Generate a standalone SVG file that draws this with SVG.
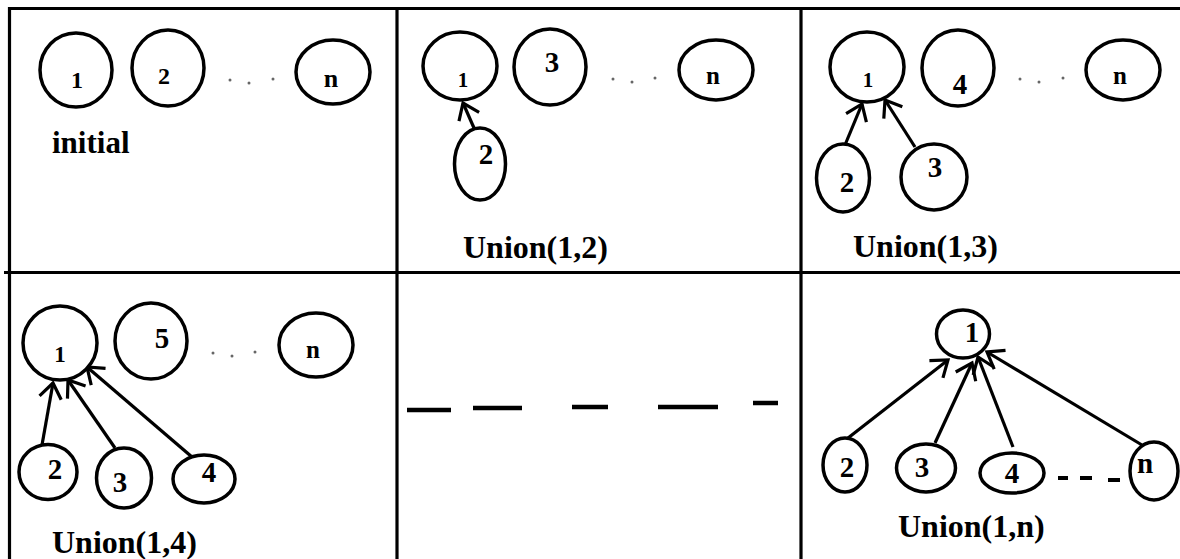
<svg xmlns="http://www.w3.org/2000/svg" width="1180" height="559" viewBox="0 0 1180 559">
<defs>
<style>
.n{fill:#fff;stroke:#000;stroke-width:3.5}
.t{font-family:"Liberation Serif","Times New Roman",serif;font-weight:bold;fill:#000;text-anchor:middle}
.cap{font-family:"Liberation Serif","Times New Roman",serif;font-weight:bold;fill:#000;font-size:32px}
.e{stroke:#000;stroke-width:3.2;fill:none;marker-end:url(#ah)}
.g{stroke:#000;stroke-width:3.2}
.d{fill:#666}
.dash{stroke:#000;stroke-width:4.5}
</style>
<marker id="ah" markerUnits="userSpaceOnUse" viewBox="-20 -15 30 30" markerWidth="30" markerHeight="30" refX="0" refY="0" orient="auto">
<path d="M-15,-11 L0,0 L-15,11" fill="none" stroke="#000" stroke-width="3.2"/>
</marker>
</defs>
<rect width="1180" height="559" fill="#fff"/>
<g id="grid">
<line class="g" x1="9" y1="8.5" x2="1180" y2="8.5"/>
<line class="g" x1="9.5" y1="7" x2="9.5" y2="559"/>
<line class="g" x1="4" y1="272.5" x2="1180" y2="272.5"/>
<line class="g" x1="397" y1="7" x2="397" y2="559"/>
<line class="g" x1="801" y1="7" x2="801" y2="559"/>
</g>
<g id="connectors">
<line class="e" x1="474" y1="128" x2="463" y2="103"/>
<line class="e" x1="845" y1="145" x2="862" y2="104"/>
<line class="e" x1="915" y1="147" x2="885" y2="100"/>
<line class="e" x1="42" y1="445" x2="53" y2="383"/>
<line class="e" x1="115" y1="448" x2="68" y2="380"/>
<line class="e" x1="192" y1="457" x2="87" y2="367"/>
<line class="e" x1="848" y1="438" x2="948" y2="360"/>
<line class="e" x1="935" y1="443" x2="972" y2="363"/>
<line class="e" x1="1013" y1="447" x2="978" y2="357"/>
<line class="e" x1="1142" y1="445" x2="987" y2="352"/>
</g>
<g id="panel1">
<g id="p1n1"><ellipse class="n" cx="76" cy="70" rx="36" ry="37"/><text class="t" x="77" y="88" font-size="24">1</text></g>
<g id="p1n2"><ellipse class="n" cx="168" cy="68" rx="36" ry="38"/><text class="t" x="164" y="84" font-size="24">2</text></g>
<g id="p1nn"><ellipse class="n" cx="333" cy="72" rx="37" ry="32"/><text class="t" x="331" y="87" font-size="26">n</text></g>
<circle class="d" cx="230" cy="80" r="1.5"/><circle class="d" cx="249" cy="83" r="1.5"/><circle class="d" cx="273" cy="79" r="1.5"/>
<text class="cap" x="52" y="153" style="font-size:31px">initial</text>
</g>
<g id="panel2">
<g id="p2n1"><ellipse class="n" cx="460" cy="66" rx="37" ry="34"/><text class="t" x="463" y="87" font-size="21">1</text></g>
<g id="p2n3"><ellipse class="n" cx="550" cy="67" rx="36" ry="38"/><text class="t" x="552" y="72" font-size="29">3</text></g>
<g id="p2nn"><ellipse class="n" cx="716" cy="70" rx="37" ry="30"/><text class="t" x="713" y="84" font-size="25">n</text></g>
<g id="p2n2"><ellipse class="n" cx="480" cy="164" rx="25.5" ry="36"/><text class="t" x="486" y="164" font-size="29">2</text></g>
<circle class="d" cx="613" cy="79" r="1.5"/><circle class="d" cx="632" cy="82" r="1.5"/><circle class="d" cx="655" cy="78" r="1.5"/>
<text class="cap" x="463" y="258">Union(1,2)</text>
</g>
<g id="panel3">
<g id="p3n1"><ellipse class="n" cx="867" cy="67" rx="37" ry="35"/><text class="t" x="868" y="87" font-size="21">1</text></g>
<g id="p3n4"><ellipse class="n" cx="958" cy="68" rx="36" ry="38"/><text class="t" x="960" y="94" font-size="29">4</text></g>
<g id="p3nn"><ellipse class="n" cx="1123" cy="70" rx="37" ry="30"/><text class="t" x="1120" y="84" font-size="25">n</text></g>
<g id="p3n2"><ellipse class="n" cx="843" cy="178" rx="26.5" ry="34"/><text class="t" x="847" y="192" font-size="29">2</text></g>
<g id="p3n3"><ellipse class="n" cx="934" cy="177" rx="33" ry="33"/><text class="t" x="935" y="177" font-size="29">3</text></g>
<circle class="d" cx="1020" cy="79" r="1.5"/><circle class="d" cx="1039" cy="82" r="1.5"/><circle class="d" cx="1063" cy="78" r="1.5"/>
<text class="cap" x="853" y="257">Union(1,3)</text>
</g>
<g id="panel4">
<g id="p4n1"><ellipse class="n" cx="60" cy="343" rx="37" ry="37"/><text class="t" x="60" y="362" font-size="23">1</text></g>
<g id="p4n5"><ellipse class="n" cx="151" cy="341" rx="36" ry="38"/><text class="t" x="162" y="348" font-size="29">5</text></g>
<g id="p4nn"><ellipse class="n" cx="316" cy="345" rx="37" ry="32"/><text class="t" x="313" y="358" font-size="25">n</text></g>
<g id="p4n2"><ellipse class="n" cx="48" cy="472" rx="29" ry="27.5"/><text class="t" x="55" y="479" font-size="29">2</text></g>
<g id="p4n3"><ellipse class="n" cx="124" cy="478" rx="27.5" ry="30"/><text class="t" x="120" y="492" font-size="29">3</text></g>
<g id="p4n4"><ellipse class="n" cx="204" cy="479" rx="31" ry="24"/><text class="t" x="209" y="482" font-size="29">4</text></g>
<circle class="d" cx="213" cy="353" r="1.5"/><circle class="d" cx="232" cy="356" r="1.5"/><circle class="d" cx="255" cy="352" r="1.5"/>
<text class="cap" x="52" y="553">Union(1,4)</text>
</g>
<g id="panel5">
<line class="dash" x1="407" y1="410" x2="451" y2="410"/>
<line class="dash" x1="473" y1="408" x2="522" y2="408"/>
<line class="dash" x1="572" y1="407" x2="608" y2="407"/>
<line class="dash" x1="658" y1="407" x2="718" y2="407"/>
<line class="dash" x1="753" y1="403" x2="778" y2="403"/>
</g>
<g id="panel6">
<g id="p6n1"><ellipse class="n" cx="963" cy="334" rx="26.5" ry="24"/><text class="t" x="972" y="342" font-size="29">1</text></g>
<g id="p6n2"><ellipse class="n" cx="845" cy="465" rx="22" ry="27"/><text class="t" x="847" y="477" font-size="29">2</text></g>
<g id="p6n3"><ellipse class="n" cx="926" cy="468" rx="29.5" ry="24"/><text class="t" x="922" y="477" font-size="29">3</text></g>
<g id="p6n4"><ellipse class="n" cx="1012" cy="473" rx="32" ry="20"/><text class="t" x="1012" y="483" font-size="29">4</text></g>
<g id="p6nn"><ellipse class="n" cx="1154" cy="471" rx="24" ry="29"/><text class="t" x="1145" y="473" font-size="29">n</text></g>
<line class="dash" x1="1058" y1="478" x2="1068" y2="478" style="stroke-width:4"/>
<line class="dash" x1="1080" y1="478" x2="1092" y2="478" style="stroke-width:4"/>
<line class="dash" x1="1108" y1="480" x2="1120" y2="480" style="stroke-width:4"/>
<text class="cap" x="898" y="537">Union(1,n)</text>
</g>
</svg>
